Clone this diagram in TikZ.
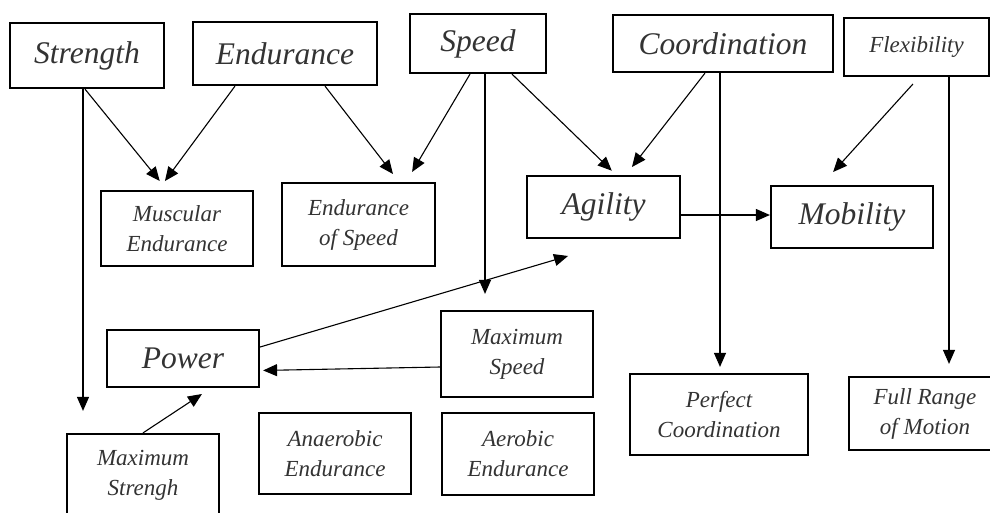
\documentclass[tikz,border=0pt]{standalone}
\usepackage{fontspec}
\setmainfont{Liberation Serif}
\usetikzlibrary{arrows.meta}

\begin{document}
\begin{tikzpicture}[
    x=1pt, y=-1pt, % 1 unit = 1 px of the figure, y runs downwards
    >={Triangle[length=14pt,width=12pt]}, % arrow style
    box/.style={draw, line width=2.2pt, rectangle, align=center, inner sep=0pt, text=black!80},
    big/.style={box, font=\fontsize{31.5}{36}\selectfont\itshape},
    small/.style={box, font=\fontsize{23}{30}\selectfont\itshape},
    link/.style={->, line width=1.1pt},
    ]

    \useasboundingbox (0,0) rectangle (990,512);
    \clip (0,0) rectangle (990,512);

    % --- top row ---
    \node[big, minimum width=154pt, minimum height=65pt] (strength) at (87,55.5) {Strength};
    \node[big, minimum width=184pt, minimum height=63pt] (endur) at (285,53.5) {Endurance};
    \node[big, minimum width=136pt, minimum height=59pt] (speed) at (478,43.5) {Speed};
    \node[big, minimum width=220pt, minimum height=57pt] (coord) at (723,43.5) {Coordination};
    \node[small, minimum width=145pt, minimum height=58pt] (flex) at (916.5,47) {Flexibility};

    % --- middle row ---
    \node[small, minimum width=152pt, minimum height=75pt] (musc) at (177,228.5) {Muscular\\Endurance};
    \node[small, minimum width=153pt, minimum height=83pt] (endspeed) at (358.5,224.5) {Endurance\\of Speed};
    \node[big, minimum width=153pt, minimum height=62pt] (agility) at (603.5,207) {Agility};
    \node[big, minimum width=162pt, minimum height=62pt] (mobility) at (852,217) {Mobility};

    % --- bottom part ---
    \node[big, minimum width=152pt, minimum height=57pt] (power) at (183,358.5) {Power};
    \node[small, minimum width=152pt, minimum height=86pt] (maxspeed) at (517,354) {Maximum\\Speed};
    \node[small, minimum width=152pt, minimum height=81pt] (anaerobic) at (335,453.5) {Anaerobic\\Endurance};
    \node[small, minimum width=152pt, minimum height=82pt] (aerobic) at (518,454) {Aerobic\\Endurance};
    \node[small, minimum width=152pt, minimum height=82pt] (maxstrength) at (143,475) {Maximum\\Strengh};
    \node[small, minimum width=178pt, minimum height=81pt] (perfect) at (719,414.5) {Perfect\\Coordination};
    \node[small, minimum width=152pt, minimum height=73pt] (fullrange) at (925,413.5) {Full Range\\of Motion};

    % --- arrows ---
    % from Strength
    \draw[link, shorten >=11.5pt] ([xshift=-2pt]strength.south) -- ([xshift=-10pt]musc.north);
    \draw[link, shorten >=22pt] ([xshift=-4pt]strength.south) -- ([xshift=-60pt]maxstrength.north);
    % from Endurance
    \draw[link, shorten >=11pt] ([xshift=-50pt]endur.south) -- ([xshift=-18.6pt]musc.north);
    \draw[link, shorten >=10pt] ([xshift=40pt]endur.south) -- ([xshift=40.6pt]endspeed.north);
    % from Speed
    \draw[link, shorten >=11.6pt] ([xshift=-8pt]speed.south) -- ([xshift=47.7pt]endspeed.north);
    \draw[link, shorten >=16pt] ([xshift=7pt]speed.south) -- ([xshift=-32pt]maxspeed.north);
    \draw[link, shorten >=6pt] ([xshift=34pt]speed.south) -- ([xshift=12.6pt]agility.north);
    % from Coordination
    \draw[link, shorten >=10pt] ([xshift=-18pt]coord.south) -- ([xshift=22.3pt]agility.north);
    \draw[link, shorten >=6pt] ([xshift=-3pt]coord.south) -- ([xshift=1pt]perfect.north);
    % from Flexibility
    \draw[link, shorten <=9.4pt, shorten >=17.4pt] ([xshift=2.7pt]flex.south) -- ([xshift=-30.6pt]mobility.north);
    \draw[link, shorten >=12pt] ([xshift=32.5pt]flex.south) -- ([xshift=24pt]fullrange.north);
    % Agility -> Mobility
    \draw[link] ([yshift=-8pt]agility.east) -- ([yshift=-8pt]agility.east -| mobility.west);
    % into and out of Power
    \draw[link, shorten >=3pt] ([yshift=-13pt]maxspeed.west) -- ([yshift=-12pt]power.east);
    \draw[link, shorten >=59.5pt] ([yshift=11.5pt]power.east) -- ([xshift=21.6pt]agility.south);
    \draw[link, shorten >=10.7pt] (maxstrength.north) -- ([xshift=27.9pt]power.south);

\end{tikzpicture}
\end{document}
